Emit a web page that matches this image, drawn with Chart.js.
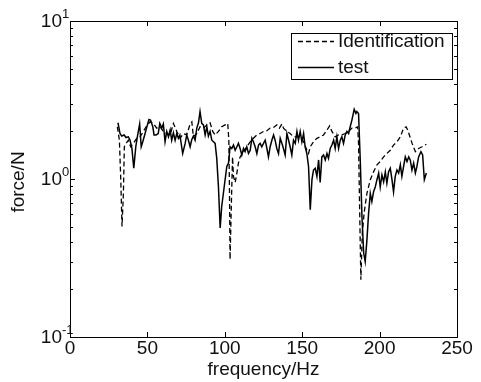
<!DOCTYPE html>
<html>
<head>
<meta charset="utf-8">
<script src="https://cdn.jsdelivr.net/npm/chart.js@4/dist/chart.umd.min.js"></script>
<style>
  html, body { margin: 0; padding: 0; background: #fff; }
  #wrap { width: 481px; height: 382px; }
</style>
</head>
<body>
<div id="wrap"><canvas id="chart" width="481" height="382"></canvas></div>
<script>
// measured curve: frequency (Hz) / force (N)
const testFreq = [31, 32.3, 33.4, 35, 36.2, 37.7, 38.8, 40, 41.2, 42.5, 43.5, 45, 46, 47, 48.5, 50, 51, 52, 53.5, 54.3,
  55.6, 57, 58, 59.3, 60.3, 61.4, 62.5, 63.6, 64.7, 65.7, 66.8, 67.9, 69, 70, 71, 72.8, 74.4, 75.4, 76.5, 77.6,
  78.7, 79.7, 80.8, 81.9, 83, 84, 85.1, 86.2, 87.3, 88.4, 89.4, 90.5, 91.6, 92.7, 93.75, 94.8, 95.9, 97, 98, 99.6,
  101.3, 102.4, 103.4, 104.5, 105.6, 106.7, 107.8, 108.8, 109.9, 111, 112.1, 113.1, 114.2, 115.3, 116.4, 117.5, 118.5, 119.6, 120.7, 121.8,
  122.8, 123.9, 125, 126.1, 127.2, 128.2, 129.3, 130.4, 131.5, 132.5, 133.6, 134.7, 135.8, 136.9, 137.9, 139, 140.1, 141.2, 142.2, 143.3,
  144.4, 145.5, 146.6, 147.6, 148.7, 149.8, 150.9, 151.9, 153, 154.1, 155.2, 156.3, 157.3, 158.4, 159.5, 160.6, 161.6, 162.7, 163.8, 164.9,
  166, 167, 168.1, 169.2, 170.3, 171.3, 172.4, 173.5, 174.6, 175.6, 176.7, 177.8, 178.9, 180, 181, 182.1, 183.6, 184.7, 185.3, 186.4,
  187.5, 188.6, 189.7, 190.7, 191.8, 192.9, 194, 195, 196.1, 197.2, 198.3, 199.4, 200.4, 201.5, 202.6, 203.7, 204.7, 205.8, 206.9, 208,
  209, 210.1, 211.2, 212.3, 213.4, 214.4, 215.5, 216.6, 217.7, 218.8, 219.8, 220.9, 222, 223.1, 224.1, 225.2, 226.7, 227.8, 228.9, 230.2];
const testForce = [2.27, 1.94, 1.87, 1.9, 1.83, 1.85, 1.76, 1.56, 1.17, 1.6, 1.85, 2.23, 1.6, 1.72, 1.94, 2.2, 2.38, 2.36, 2.14, 1.9,
  1.9, 1.94, 2.25, 2.1, 2.23, 1.72, 2.0, 1.85, 2.04, 1.76, 1.96, 1.76, 1.94, 1.81, 1.9, 1.45, 1.68, 1.9, 1.76, 1.6,
  1.78, 1.87, 1.76, 2.1, 2.27, 2.67, 2.25, 2.2, 1.9, 2.14, 1.87, 2.0, 1.76, 1.72, 1.68, 1.35, 0.89, 0.49, 0.67, 0.89,
  1.2, 1.26, 1.6, 1.56, 1.64, 1.52, 1.6, 1.68, 1.56, 1.42, 1.56, 1.49, 1.6, 1.45, 1.52, 1.81, 1.72, 1.6, 1.45, 1.64,
  1.68, 1.6, 1.68, 1.76, 1.56, 1.38, 1.6, 1.76, 1.9, 1.76, 1.56, 1.45, 1.81, 1.68, 1.56, 1.42, 1.94, 1.76, 1.6, 1.42,
  1.76, 1.68, 2.0, 1.76, 2.0, 1.72, 1.94, 1.6, 1.45, 1.2, 0.64, 0.99, 1.14, 1.17, 1.04, 1.32, 0.95, 1.38, 1.42, 1.32,
  1.45, 1.35, 1.56, 1.64, 1.76, 1.56, 1.85, 1.56, 1.76, 1.85, 1.68, 1.9, 2.0, 1.94, 2.14, 2.36, 2.76, 2.6, 2.67, 2.6,
  1.32, 0.58, 0.34, 0.3, 0.41, 0.61, 0.81, 0.72, 0.83, 0.89, 0.99, 1.09, 0.89, 1.06, 0.96, 1.11, 0.94, 1.11, 1.17, 0.99,
  0.83, 1.04, 1.14, 1.09, 1.23, 1.04, 1.2, 1.38, 1.29, 1.38, 1.32, 1.14, 1.26, 1.09, 1.2, 1.38, 1.49, 1.42, 0.99, 1.09];

// identified curve
const identFreq = [30.6, 31.9, 32.8, 33.6, 34.5, 35.1, 36.2, 37.7, 39.2, 40.9, 43.1, 45.3, 47.4, 49.6, 51.7, 53.9, 56, 58.2, 60.3, 62.5,
  64.7, 66.8, 69, 71.1, 73.3, 75.4, 77.6, 78.7, 79.7, 81.9, 84, 86.2, 88.4, 90.5, 92.2, 93.75, 95.9, 98, 100.2, 101.9,
  102.6, 103, 103.4, 104.1, 105, 105.6, 106.7, 107.8, 108.8, 109.9, 112.1, 114.2, 116.4, 118.5, 120.7, 122.8, 125, 127.2, 129.3, 131.5,
  133.6, 135.3, 136.9, 137.9, 140.1, 142.2, 144.4, 146.6, 148.7, 150.9, 153, 154.1, 155.2, 157.3, 159.5, 161.6, 163.8, 166, 167.7, 169.2,
  171.3, 173.5, 175.6, 177.8, 180, 182.1, 184.3, 185.8, 186.4, 187, 187.9, 188.8, 190, 191.8, 194, 196.1, 198.3, 200.4, 202.6, 204.7,
  206.9, 209, 211.2, 213.4, 215.5, 217.1, 218.2, 221, 223.1, 225.2, 227.4, 230.2];
const identForce = [2.14, 1.76, 0.99, 0.5, 0.81, 1.6, 1.68, 1.76, 1.6, 1.68, 1.81, 1.85, 2.0, 2.17, 2.3, 2.25, 2.1, 2.14, 2.0, 1.94,
  1.9, 2.25, 2.0, 1.81, 1.94, 1.9, 2.23, 2.3, 1.85, 1.94, 2.14, 2.1, 2.2, 2.27, 2.0, 1.9, 2.0, 2.14, 2.2, 2.25,
  1.76, 0.89, 0.31, 0.61, 1.38, 1.04, 0.95, 1.09, 1.26, 1.38, 1.49, 1.6, 1.72, 1.81, 1.9, 1.94, 2.0, 2.02, 2.1, 2.12,
  2.2, 2.1, 2.23, 2.1, 2.0, 1.94, 1.85, 1.85, 1.85, 1.72, 1.52, 1.45, 1.6, 1.72, 1.81, 1.85, 1.9, 2.04, 2.17, 2.0,
  1.85, 1.9, 1.9, 1.94, 2.0, 2.1, 2.1, 2.14, 1.68, 0.74, 0.23, 0.45, 0.61, 0.81, 0.99, 1.11, 1.23, 1.29, 1.38, 1.45,
  1.52, 1.64, 1.72, 1.85, 2.1, 2.14, 2.04, 1.68, 1.49, 1.56, 1.6, 1.66];

const xTicks = [0, 50, 100, 150, 200, 250];
const yMajor = [0.1, 1, 10];
const yExp = ['-1', '0', '1'];
const seriesNames = ['Identification', 'test'];

const FONT = 'Arial, "Liberation Sans", sans-serif';

const pts = (xs, ys) => xs.map((x, i) => ({ x: x, y: ys[i] }));

// MATLAB-ish axes: box, inward ticks, labels, legend
const axesPlugin = {
  id: 'matlabAxes',
  afterDraw(chart) {
    const ctx = chart.ctx;
    const a = chart.chartArea;
    const xs = chart.scales.x, ys = chart.scales.y;
    ctx.save();
    ctx.strokeStyle = '#000';
    ctx.lineWidth = 1;
    ctx.setLineDash([]);

    // ticks
    ctx.beginPath();
    xTicks.forEach(v => {
      const px = Math.round(xs.getPixelForValue(v)) + 0.5;
      ctx.moveTo(px, a.bottom); ctx.lineTo(px, a.bottom - 5);
      ctx.moveTo(px, a.top); ctx.lineTo(px, a.top + 5);
    });
    [0.1, 1].forEach(dec => {
      for (let m = 1; m <= 10; m++) {
        const v = dec * m;
        const len = (m === 1 || m === 10) ? 5 : 3;
        const py = Math.round(ys.getPixelForValue(v)) + 0.5;
        ctx.moveTo(a.left, py); ctx.lineTo(a.left + len, py);
        ctx.moveTo(a.right, py); ctx.lineTo(a.right - len, py);
      }
    });
    ctx.stroke();

    // box
    ctx.strokeRect(Math.round(a.left) + 0.5, Math.round(a.top) + 0.5,
      Math.round(a.right - a.left), Math.round(a.bottom - a.top));

    ctx.fillStyle = '#111';
    // x tick labels
    ctx.font = '19px ' + FONT;
    ctx.textAlign = 'center';
    ctx.textBaseline = 'middle';
    xTicks.forEach(v => ctx.fillText(String(v), xs.getPixelForValue(v), a.bottom + 12));

    // y tick labels 10^n
    yMajor.forEach((v, i) => {
      const py = ys.getPixelForValue(v);
      ctx.font = '19px ' + FONT;
      ctx.textAlign = 'right';
      ctx.textBaseline = 'middle';
      ctx.fillText('10', 62, py + 1);
      ctx.font = '13px ' + FONT;
      ctx.textAlign = 'left';
      ctx.fillText(yExp[i], 62, py - 7);
    });

    // axis titles
    ctx.font = '19px ' + FONT;
    ctx.textAlign = 'center';
    ctx.textBaseline = 'middle';
    ctx.fillText('frequency/Hz', (a.left + a.right) / 2, 370);
    ctx.save();
    ctx.translate(19, (a.top + a.bottom) / 2 + 3);
    ctx.rotate(-Math.PI / 2);
    ctx.fillText('force/N', 0, 0);
    ctx.restore();

    // legend
    const lx = 291, ly = 33, lw = 161, lh = 46;
    ctx.fillStyle = '#fff';
    ctx.fillRect(lx, ly, lw, lh);
    ctx.strokeRect(lx + 0.5, ly + 0.5, lw, lh);
    ctx.fillStyle = '#111';
    ctx.textAlign = 'left';
    const rows = [41, 67];
    chart.data.datasets.forEach((ds, i) => {
      ctx.beginPath();
      ctx.lineWidth = ds.borderWidth;
      ctx.setLineDash(ds.borderDash || []);
      ctx.moveTo(298, rows[i] + 0.5); ctx.lineTo(334, rows[i] + 0.5);
      ctx.stroke();
      ctx.setLineDash([]);
      ctx.fillText(seriesNames[i], 338, rows[i] + 1);
    });
    ctx.restore();
  }
};

new Chart(document.getElementById('chart'), {
  type: 'line',
  data: {
    datasets: [
      { label: seriesNames[0], data: pts(identFreq, identForce), borderColor: '#000', borderWidth: 1.3, borderDash: [5, 3], pointRadius: 0, tension: 0, fill: false },
      { label: seriesNames[1], data: pts(testFreq, testForce), borderColor: '#000', borderWidth: 1.5, pointRadius: 0, tension: 0, fill: false },
    ],
  },
  options: {
    responsive: false,
    animation: false,
    events: [],
    layout: { padding: { left: 70, top: 21, right: 24, bottom: 45 } },
    plugins: { legend: { display: false }, tooltip: { enabled: false } },
    scales: {
      x: { type: 'linear', min: 0, max: 250, display: false },
      y: { type: 'logarithmic', min: 0.1, max: 10, display: false },
    },
  },
  plugins: [axesPlugin],
});
</script>
</body>
</html>
